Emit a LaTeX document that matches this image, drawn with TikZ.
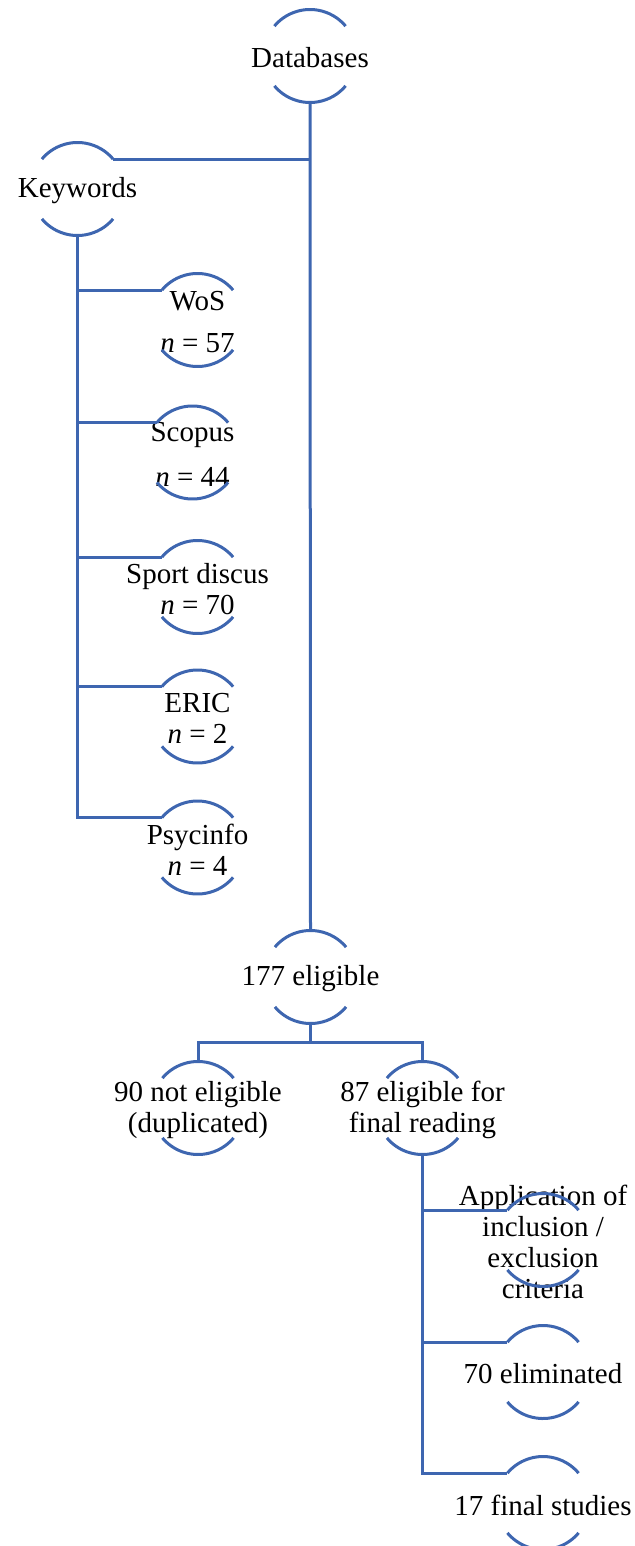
\documentclass[tikz,border=0pt]{standalone}
\usepackage{fontspec}
\setmainfont{Liberation Serif}
\usetikzlibrary{calc}
\definecolor{flowblue}{RGB}{62,102,176}

\begin{document}
\begin{tikzpicture}[x=0.5pt,y=-0.5pt,
  bub/.style={circle,minimum size=46.5pt,inner sep=0pt,outer sep=0pt,
    label={[lbl]center:#1}},
  lbl/.style={font=\fontsize{14.5}{15.5}\selectfont,align=center,inner sep=0pt,
    text=black,yshift=-1pt},
  link/.style={draw=flowblue,line width=1.5pt}
]
\useasboundingbox (0,0) rectangle (635,1546);

% bubbles: text with an arc above and below
\node[bub={Databases}] (db) at (310,56) {};
\node[bub={Keywords}] (kw) at (77.5,189) {};
\node[bub={WoS\\[5.5pt]\textit{n} = 57}] (wos) at (197.5,320) {};
\node[bub={Scopus\\[7pt]\textit{n} = 44}] (sco) at (192.5,452.5) {};
\node[bub={Sport discus\\\textit{n} = 70}] (spd) at (197.5,587) {};
\node[bub={ERIC\\\textit{n} = 2}] (eric) at (197.5,716.5) {};
\node[bub={Psycinfo\\\textit{n} = 4}] (psy) at (197.5,847.5) {};
\node[bub={177 eligible}] (e177) at (310.5,977) {};
\node[bub={90 not eligible\\(duplicated)}] (ne) at (198,1108) {};
\node[bub={87 eligible for\\final reading}] (el) at (422.5,1108) {};
\node[bub={Application of\\inclusion /\\exclusion\\criteria}] (app) at (543,1240) {};
\node[bub={70 eliminated}] (elim) at (543,1372) {};
\node[bub={17 final studies}] (fin) at (543,1503) {};

\foreach \n in {db,kw,wos,sco,spd,eric,psy,e177,ne,el,app,elim,fin}{
  \draw[link] (\n.140) arc[start angle=140,end angle=40,radius=23.25pt];
  \draw[link] (\n.220) arc[start angle=220,end angle=320,radius=23.25pt];
}

% connectors
\draw[link] (db.south) -- (e177.north);
\draw[link] (kw.40) -- (kw.40 -| db.south);
\draw[link] (kw.south) |- (psy.140);
\foreach \n in {wos,sco,spd,eric}{
  \draw[link] (\n.140) -- (\n.140 -| kw.south);
}
\coordinate (fork) at ($(e177.south)!0.5!(e177.south |- ne.north)$);
\draw[link] (e177.south) -- (fork);
\draw[link] (ne.north) |- (fork) -| (el.north);
\draw[link] (el.south) |- (fin.140);
\foreach \n in {app,elim}{
  \draw[link] (\n.140) -- (\n.140 -| el.south);
}
\end{tikzpicture}
\end{document}
